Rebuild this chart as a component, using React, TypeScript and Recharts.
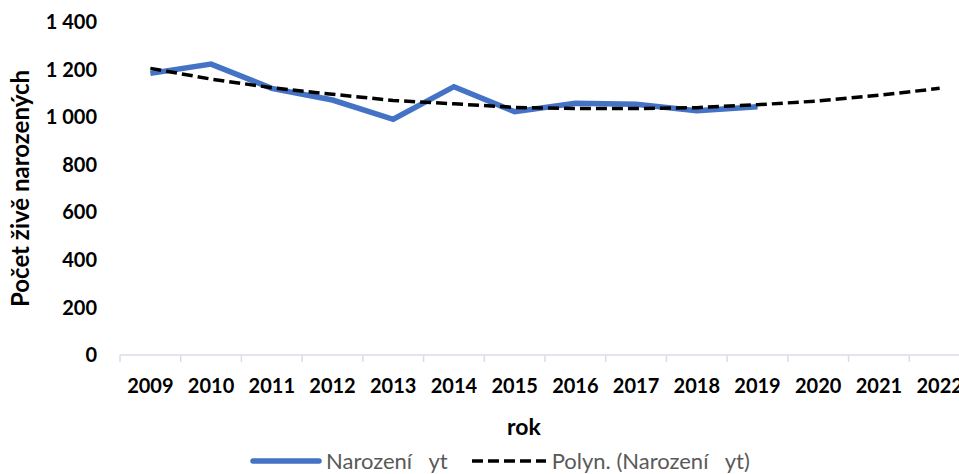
import React from "react";
import { LineChart, Line, XAxis, YAxis, Legend } from "recharts";

const years = [2009, 2010, 2011, 2012, 2013, 2014, 2015, 2016, 2017, 2018, 2019, 2020, 2021, 2022];
const births = [1184, 1223, 1121, 1072, 991, 1128, 1023, 1058, 1054, 1027, 1044, null, null, null];
const trend = [1205, 1160, 1124, 1096, 1070, 1056, 1041, 1036, 1036, 1040, 1052, 1068, 1092, 1121];
const yTicks = [0, 200, 400, 600, 800, 1000, 1200, 1400];

const SERIES_NAME = "Narození   yt";
const TREND_NAME = "Polyn. (Narození   yt)";

const data = years.map((year, i) => ({ year, births: births[i], trend: trend[i] }));

const FONT = "Lato, 'Open Sans', sans-serif";
const CHART_W = 990;
const CHART_H = 474;
const LEFT = 120;
const RIGHT_M = 20;
const PLOT_W = CHART_W - LEFT - RIGHT_M;
const HALF = PLOT_W / years.length / 2;

function fmtThousands(v: number): string {
  return String(v).replace(/\B(?=(\d{3})+(?!\d))/g, " ");
}

function YearTick(props: any) {
  const { x, y, payload, index } = props;
  const axisY = y - 24;
  return (
    <g>
      <line x1={x - HALF} x2={x - HALF} y1={axisY} y2={axisY + 7} stroke="#d9dde4" strokeWidth={1.5} />
      {index === years.length - 1 && (
        <line x1={x + HALF} x2={x + HALF} y1={axisY} y2={axisY + 7} stroke="#d9dde4" strokeWidth={1.5} />
      )}
      <text x={x} y={y} dy="0.71em" textAnchor="middle" fontFamily={FONT} fontWeight={700} fontSize={20} fill="#000">
        {payload.value}
      </text>
    </g>
  );
}

function LegendBox() {
  const txt: React.CSSProperties = {
    fontFamily: FONT,
    fontSize: 22,
    color: "#595959",
    marginLeft: 4,
    whiteSpace: "pre",
    lineHeight: "24px",
  };
  return (
    <div style={{ display: "flex", alignItems: "center", height: 24 }}>
      <svg width={72} height={10}>
        <line x1={3} x2={69} y1={5} y2={5} stroke="#4472C4" strokeWidth={5.5} strokeLinecap="round" />
      </svg>
      <span style={txt}>{SERIES_NAME}</span>
      <svg width={78} height={10} style={{ marginLeft: 22 }}>
        <line x1={2} x2={76} y1={5} y2={5} stroke="#000" strokeWidth={3.5} strokeDasharray="11 5" />
      </svg>
      <span style={txt}>{TREND_NAME}</span>
    </div>
  );
}

export default function App() {
  return (
    <div style={{ position: "fixed", left: 0, top: 0, width: 959, height: 474, overflow: "hidden", background: "#fff" }}>
      <LineChart width={CHART_W} height={CHART_H} data={data} margin={{ top: 22, right: RIGHT_M, bottom: 10, left: 0 }}>
        <XAxis
          dataKey="year"
          type="number"
          domain={[years[0] - 0.5, years[years.length - 1] + 0.5]}
          ticks={years}
          interval={0}
          height={85}
          axisLine={{ stroke: "#d9dde4", strokeWidth: 1.5 }}
          tickLine={false}
          tickSize={0}
          tickMargin={24}
          tick={<YearTick />}
          label={{
            content: (p: any) => {
              const vb = p.viewBox;
              return (
                <text x={vb.x + vb.width / 2 - 21} y={427} dy="0.35em" textAnchor="middle" fontFamily={FONT} fontWeight={700} fontSize={23} fill="#000">
                  rok
                </text>
              );
            },
          }}
        />
        <YAxis
          width={LEFT}
          domain={[0, 1400]}
          ticks={yTicks}
          axisLine={false}
          tickLine={false}
          tickSize={0}
          tickMargin={23}
          tickFormatter={fmtThousands}
          tick={{ fontFamily: FONT, fontWeight: 700, fontSize: 20, fill: "#000" }}
          label={{
            content: (p: any) => {
              const vb = p.viewBox;
              const cy = vb.y + vb.height / 2;
              return (
                <text x={21} y={cy} dy="0.35em" textAnchor="middle" transform={`rotate(-90, 21, ${cy})`} fontFamily={FONT} fontWeight={700} fontSize={24} fill="#000">
                  Počet živě narozených
                </text>
              );
            },
          }}
        />
        <Legend
          verticalAlign="bottom"
          content={<LegendBox />}
          wrapperStyle={{ left: 250, width: 640, height: 24, top: 449, bottom: "auto" }}
        />
        <Line
          dataKey="births"
          name={SERIES_NAME}
          stroke="#4472C4"
          strokeWidth={5.5}
          dot={false}
          isAnimationActive={false}
        />
        <Line
          dataKey="trend"
          name={TREND_NAME}
          stroke="#000"
          strokeWidth={3.5}
          strokeDasharray="11 5"
          dot={false}
          isAnimationActive={false}
        />
      </LineChart>
    </div>
  );
}
